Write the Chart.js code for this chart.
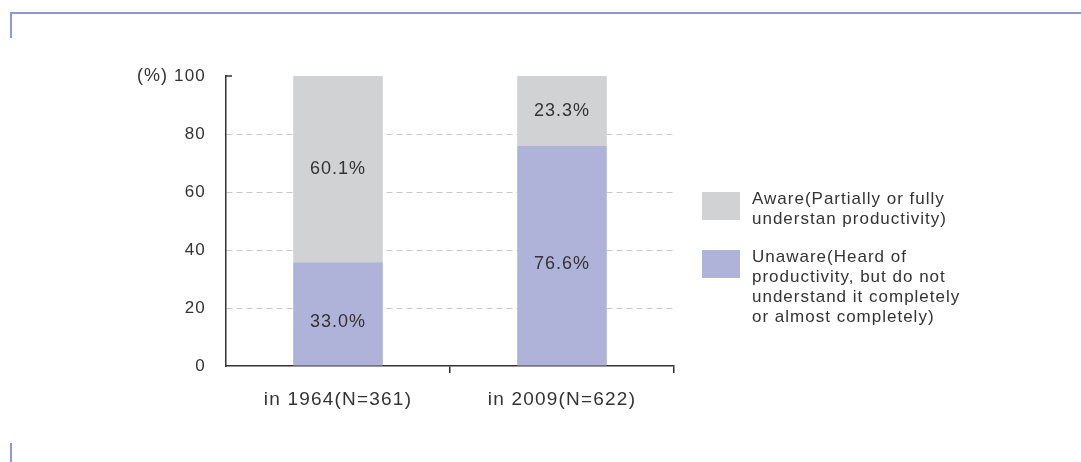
<!DOCTYPE html>
<html>
<head>
<meta charset="utf-8">
<script src="https://cdn.jsdelivr.net/npm/chart.js@4"></script>
<style>
  body { margin: 0; background: #fff; }
  #wrap { position: relative; width: 1081px; height: 462px; overflow: hidden; }
  canvas { position: absolute; left: 0; top: 0; }
  .frame { position: absolute; background: #8e98d3; }
  #legend { position: absolute; left: 702px; top: 189px; font-family: "Liberation Sans", Arial, sans-serif;
            font-size: 17px; letter-spacing: 1px; line-height: 20px; color: #333; }
  .item { position: relative; padding-left: 50px; margin-bottom: 18px; white-space: nowrap; }
  .sw { position: absolute; left: 0; top: 3px; width: 38px; height: 28px; }
</style>
</head>
<body>
<div id="wrap">
  <canvas id="chart" width="1081" height="462"></canvas>
  <div class="frame" style="left:10px; top:12px; width:1071px; height:2px;"></div>
  <div class="frame" style="left:10px; top:12px; width:2px; height:26px;"></div>
  <div class="frame" style="left:10px; top:443px; width:2px; height:19px;"></div>
  <div id="legend"></div>
</div>
<script>
// chart data
const categories = ['in 1964(N=361)', 'in 2009(N=622)'];
const unawareValues = [35.8, 75.9];
const awareValues = [64.2, 24.2];
const unawareLabels = ['33.0%', '76.6%'];
const awareLabels = ['60.1%', '23.3%'];
const yTicks = [0, 20, 40, 60, 80, 100];

const grayColor = '#d1d2d4';
const purpleColor = '#afb2d9';
const textColor = '#333333';
const fontFamily = '"Liberation Sans", Arial, sans-serif';

// legend in html so the long labels can wrap
const legendItems = [
  { color: grayColor, lines: ['Aware(Partially or fully', 'understan productivity)'] },
  { color: purpleColor, lines: ['Unaware(Heard of', 'productivity, but do not', 'understand it completely', 'or almost completely)'] }
];
const legendBox = document.getElementById('legend');
legendItems.forEach(item => {
  const div = document.createElement('div');
  div.className = 'item';
  div.innerHTML = `<span class="sw" style="background:${item.color}"></span>` + item.lines.join('<br>');
  legendBox.appendChild(div);
});

// a bit of letter spacing, the original font is wider than Arial
const spacingPlugin = {
  id: 'spacing',
  beforeDraw(chart) { chart.ctx.letterSpacing = '1.2px'; },
  afterDraw(chart) { chart.ctx.letterSpacing = '0px'; }
};

// value labels inside the bars + "(%)" and the small top tick
const extrasPlugin = {
  id: 'extras',
  afterDatasetsDraw(chart) {
    const ctx = chart.ctx;
    const yScale = chart.scales.y;
    const labelSets = [unawareLabels, awareLabels];
    const offsets = [8, 0];
    ctx.save();
    ctx.letterSpacing = '1px';
    ctx.font = '18px ' + fontFamily;
    ctx.fillStyle = textColor;
    ctx.textAlign = 'center';
    ctx.textBaseline = 'middle';
    chart.data.datasets.forEach((ds, i) => {
      chart.getDatasetMeta(i).data.forEach((bar, j) => {
        const mid = (bar.y + bar.base) / 2 + offsets[i];
        ctx.fillText(labelSets[i][j], bar.x, mid);
      });
    });
    const top = yScale.getPixelForValue(100);
    ctx.textAlign = 'right';
    ctx.fillText('(%)', 168, top);
    ctx.strokeStyle = '#333';
    ctx.lineWidth = 1.5;
    ctx.beginPath();
    ctx.moveTo(chart.chartArea.left, top);
    ctx.lineTo(chart.chartArea.left + 6, top);
    ctx.stroke();
    ctx.restore();
  }
};

new Chart(document.getElementById('chart'), {
  type: 'bar',
  data: {
    labels: categories,
    datasets: [
      { label: 'Unaware', data: unawareValues, backgroundColor: purpleColor },
      { label: 'Aware', data: awareValues, backgroundColor: grayColor }
    ]
  },
  options: {
    responsive: false,
    animation: false,
    layout: { padding: { left: 0, top: 76, right: 407, bottom: 0 } },
    datasets: { bar: { barPercentage: 0.4, categoryPercentage: 1.0 } },
    plugins: { legend: { display: false }, tooltip: { enabled: false } },
    scales: {
      x: {
        stacked: true,
        grid: {
          offset: true,
          drawOnChartArea: false,
          drawTicks: true,
          tickLength: 7,
          color: ctx => ctx.index === 0 ? 'rgba(0,0,0,0)' : '#333',
          lineWidth: 1.5
        },
        border: { color: '#333', width: 1.5 },
        ticks: { color: textColor, font: { family: fontFamily, size: 19 }, padding: 15 },
        afterFit: s => { s.height = 96; }
      },
      y: {
        stacked: true,
        min: 0,
        max: 100,
        afterBuildTicks: s => { s.ticks = yTicks.map(v => ({ value: v })); },
        grid: {
          drawTicks: false,
          color: ctx => (ctx.tick && (ctx.tick.value === 0 || ctx.tick.value === 100)) ? 'rgba(0,0,0,0)' : '#c8c8c8',
          lineWidth: 1
        },
        border: { color: '#333', width: 1.5, dash: [6, 4] },
        ticks: { color: textColor, font: { family: fontFamily, size: 17 }, padding: 20 },
        afterFit: s => { s.width = 226; }
      }
    }
  },
  plugins: [spacingPlugin, extrasPlugin]
});
</script>
</body>
</html>
